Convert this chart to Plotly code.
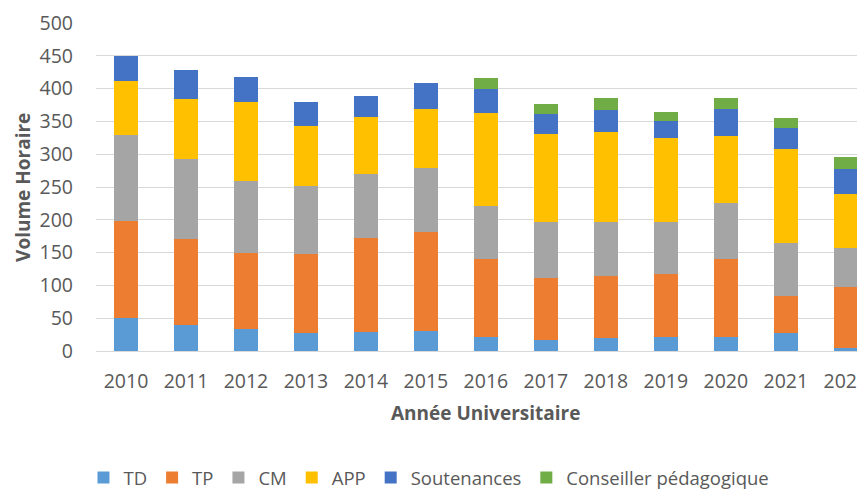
import plotly.graph_objects as go

years = ["2010", "2011", "2012", "2013", "2014", "2015", "2016",
         "2017", "2018", "2019", "2020", "2021", "2022"]
td = [50, 39, 33, 27, 29, 31, 21, 17, 20, 21, 21, 27, 4]
tp = [148, 131, 116, 121, 143, 150, 120, 95, 94, 96, 119, 57, 94]
cm = [132, 123, 110, 103, 98, 98, 80, 84, 82, 80, 86, 80, 59]
app = [82, 91, 120, 92, 87, 90, 142, 135, 138, 128, 101, 144, 83]
soutenances = [38, 44, 39, 37, 31, 40, 36, 31, 34, 25, 42, 32, 38]
conseiller = [0, 0, 0, 0, 0, 0, 17, 14, 18, 15, 17, 15, 17]

series = [
    ("TD", td, "#5B9BD5"),
    ("TP", tp, "#ED7D31"),
    ("CM", cm, "#A5A5A5"),
    ("APP", app, "#FFC000"),
    ("Soutenances", soutenances, "#4472C4"),
    ("Conseiller pédagogique", conseiller, "#70AD47"),
]

FONT = "Open Sans"
GREY = "#595959"

fig = go.Figure()
for name, vals, col in series:
    fig.add_trace(go.Bar(x=years, y=vals, name=name,
                         marker=dict(color=col, line=dict(width=0))))

# the page body has an 8px margin, so the figure is sized to the visible area
fig.update_layout(
    barmode="stack",
    bargap=0.6,
    width=857, height=481,
    margin=dict(l=88, r=0, t=15, b=138, autoexpand=False),
    paper_bgcolor="white", plot_bgcolor="white",
    font=dict(family=FONT, size=18, color=GREY),
    showlegend=True,
    legend=dict(orientation="h", x=0.433, xanchor="center",
                y=-0.387, yanchor="middle",
                font=dict(size=18.5, color=GREY),
                traceorder="normal", itemwidth=30,
                bgcolor="rgba(0,0,0,0)"),
    xaxis=dict(type="category", range=[-0.5, 12.32], automargin=False,
               showgrid=False, showline=False, ticks="",
               ticklabelstandoff=16,
               tickfont=dict(size=19.5, color=GREY), zeroline=False),
    yaxis=dict(range=[0, 500], dtick=50, showgrid=True, automargin=False,
               gridcolor="#D9D9D9", gridwidth=1,
               zeroline=True, zerolinecolor="#D9D9D9", zerolinewidth=1,
               showline=False, ticks="", ticklabelstandoff=22,
               tickfont=dict(size=19.5, color=GREY)),
    annotations=[
        dict(text="<b>Année Universitaire</b>", xref="paper", yref="paper",
             x=0.507, y=-0.189, xanchor="center", yanchor="middle",
             showarrow=False, font=dict(size=19, color=GREY, family=FONT)),
        dict(text="<b>Volume Horaire</b>", xref="paper", yref="paper",
             x=-0.095, y=0.5, xanchor="center", yanchor="middle",
             textangle=-90, showarrow=False,
             font=dict(size=19, color=GREY, family=FONT)),
    ],
)

fig.write_html("out.html")
